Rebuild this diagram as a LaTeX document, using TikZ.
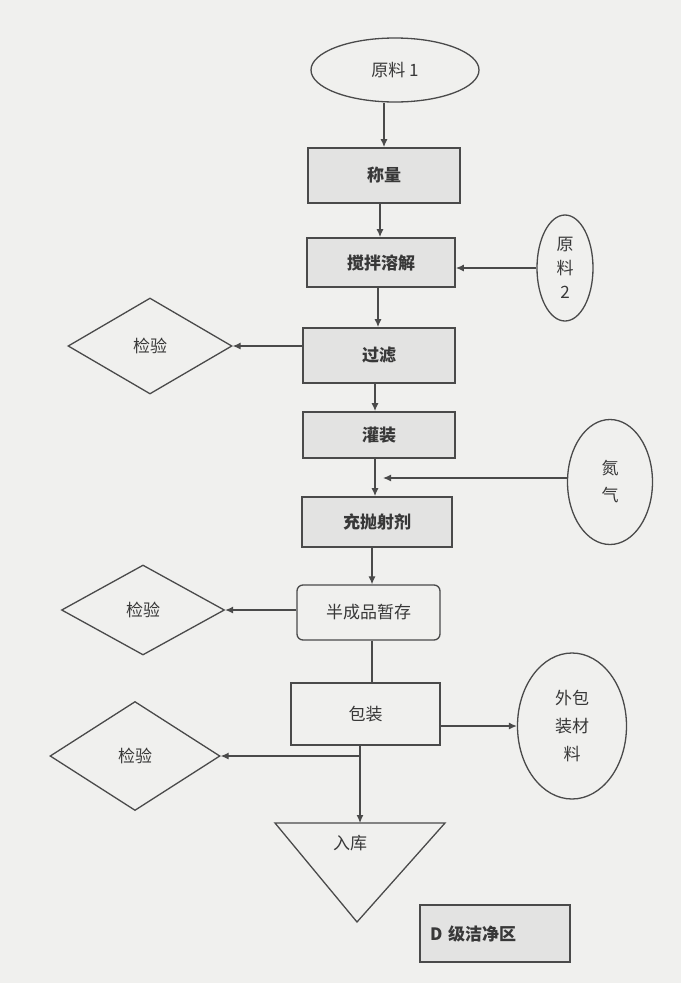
\documentclass[tikz,border=0pt]{standalone}
\usepackage{fontspec}
\newfontfamily\cjk{Noto Sans CJK SC}
\usetikzlibrary{shapes.geometric,arrows.meta}
\definecolor{bg}{HTML}{F0F0EE}
\definecolor{shade}{HTML}{E3E3E2}
\definecolor{ln}{HTML}{4A4A4A}
\definecolor{txt}{HTML}{383838}
\begin{document}
\begin{tikzpicture}[x=1pt,y=-1pt,
  base/.style={draw=ln, line width=1.3pt, inner sep=0pt, text=txt,
    font=\cjk\fontsize{17}{24}\selectfont, align=center},
  plainbox/.style={base, rectangle},
  grey/.style={base, rectangle, fill=shade, line width=1.8pt,
    font=\cjk\bfseries\fontsize{17}{24}\selectfont},
  oval/.style={base, ellipse},
  check/.style={base, diamond, aspect=1.7},
  conn/.style={draw=ln, line width=1.2pt},
  arr/.style={conn, -{Latex[length=8pt,width=7pt]}}
]
\useasboundingbox (0,0) rectangle (681,983);
\fill[bg] (0,0) rectangle (681,983);

% main column
\node[oval, minimum width=168pt, minimum height=64pt] (r1) at (395,70) {原料 1};
\node[grey, minimum width=152pt, minimum height=55pt] (cl) at (384,175.5) {称量};
\node[grey, minimum width=148pt, minimum height=49pt] (jb) at (381,262.5) {搅拌溶解};
\node[grey, minimum width=152pt, minimum height=55pt] (gl) at (379,355.5) {过滤};
\node[grey, minimum width=152pt, minimum height=46pt] (gz) at (379,435) {灌装};
\node[grey, minimum width=150pt, minimum height=50pt] (cp) at (377,522) {充抛射剂};
\node[plainbox, rounded corners=6pt, minimum width=143pt, minimum height=55pt] (bc) at (368.5,612.5) {半成品暂存};
\node[plainbox, minimum width=149pt, minimum height=62pt] (bz) at (365.5,714) {包装};

% side inputs
\node[oval, minimum width=56pt, minimum height=106pt, font=\cjk\fontsize{17}{24}\selectfont] (r2) at (565,268) {原\\料\\2};
\node[oval, minimum width=85pt, minimum height=125pt, font=\cjk\fontsize{17}{27}\selectfont] (dq) at (610,482) {氮\\气};
\node[oval, minimum width=109pt, minimum height=146pt, font=\cjk\fontsize{17}{28}\selectfont] (wb) at (572,726) {外包\\装材\\料};

% checks
\node[check, minimum width=164pt, minimum height=96pt] (jy1) at (150,346) {检验};
\node[check, minimum width=163pt, minimum height=90pt] (jy2) at (143,610) {检验};
\node[check, minimum width=170pt, minimum height=109pt] (jy3) at (135,756) {检验};

% store triangle
\coordinate (rkl) at (275,823);
\coordinate (rkr) at (445,823);
\coordinate (rkb) at (357,922);
\coordinate (rktop) at (360,823);
\draw[draw=ln, line width=1.3pt] (rkl) -- (rkr) -- (rkb) -- cycle;
\node[base, draw=none] (rk) at (350,843) {入库};

% legend
\node[grey, minimum width=150pt, minimum height=57pt, text width=130pt, align=left] (lg) at (495,933.5) {D 级洁净区};

% connectors
\draw[arr] (cl.north |- r1.south) -- (cl.north);
\draw[arr] (cl.south -| 380,0) -- (jb.north -| 380,0);
\draw[arr] (r2.west) -- (r2.west -| jb.east);
\draw[arr] (jb.south -| 378,0) -- (gl.north -| 378,0);
\draw[arr] (gl.west |- jy1.east) -- (jy1.east);
\draw[arr] (gl.south -| 375,0) -- (gz.north -| 375,0);
\draw[arr] (gz.south -| 375,0) -- (cp.north -| 375,0);
\coordinate (n2) at (383,478);
\draw[arr] (dq.west |- n2) -- (n2);
\draw[arr] (cp.south -| 372,0) -- (bc.north -| 372,0);
\draw[arr] (bc.west |- jy2.east) -- (jy2.east);
\draw[conn] (bc.south -| 372,0) -- (bz.north -| 372,0);
\draw[arr] (bz.east |- wb.west) -- (wb.west);
\draw[arr] (bz.south -| rktop) -- (rktop);
\coordinate (br) at (rktop |- jy3.east);
\draw[arr] (br) -- (jy3.east);
\end{tikzpicture}
\end{document}
